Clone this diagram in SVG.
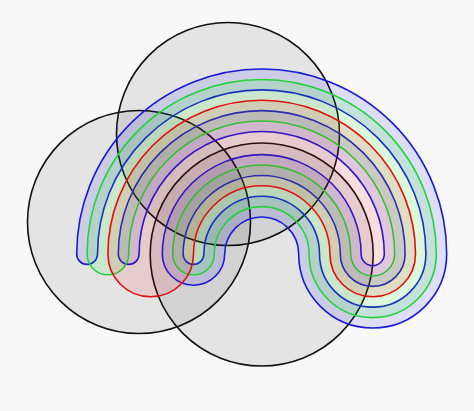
<svg xmlns="http://www.w3.org/2000/svg" width="474" height="411" viewBox="0 0 474 411">
  <style>
    .circ { fill: #000000; fill-opacity: 0.08; stroke: #111111; stroke-width: 1.6; }
    .blue { fill: #0000ff; fill-opacity: 0.1; stroke: #1a1ad6; stroke-width: 1.6; }
    .green { fill: #00ff00; fill-opacity: 0.11; stroke: #22d43a; stroke-width: 1.6; }
    .red { fill: #ff0000; fill-opacity: 0.1; stroke: #e01010; stroke-width: 1.6; }
  </style>
  <rect x="0" y="0" width="474" height="411" fill="#f8f8f8"/>
  <g id="circle-left"><circle class="circ" cx="139" cy="222" r="111.5"/></g>
  <g id="circle-top"><circle class="circ" cx="228" cy="134" r="111.5"/></g>
  <g id="circle-bottom"><circle class="circ" cx="261.7" cy="254.5" r="111.5"/></g>
  <g id="curve-blue">
    <path class="blue" d="M 76.7,254 A 185 185 0 0 1 446.7,254 A 74 74 0 0 1 298.7,254 A 37 37 0 0 0 224.7,254 A 31.2 31.2 0 0 1 162.3,254 A 99.4 99.4 0 0 1 361.1,254 A 11.6 11.6 0 0 0 384.3,254 A 122.6 122.6 0 0 0 139.1,254 A 10.4 10.4 0 0 1 118.3,254 A 143.4 143.4 0 0 1 405.1,254 A 32.4 32.4 0 0 1 340.3,254 A 78.6 78.6 0 0 0 183.1,254 A 10.4 10.4 0 0 0 203.9,254 A 57.8 57.8 0 0 1 319.5,254 A 53.2 53.2 0 0 0 425.9,254 A 164.2 164.2 0 0 0 97.5,254 A 10.4 10.4 0 0 1 76.7,254 Z"/>
  </g>
  <g id="curve-green">
    <path class="green" d="M 87.1,254 A 174.6 174.6 0 0 1 436.3,254 A 63.6 63.6 0 0 1 309.1,254 A 47.4 47.4 0 0 0 214.3,254 A 20.8 20.8 0 0 1 172.7,254 A 89 89 0 0 1 350.7,254 A 22 22 0 0 0 394.7,254 A 133 133 0 0 0 128.7,254 A 20.8 20.8 0 0 1 87.1,254 Z"/>
  </g>
  <g id="curve-red">
    <path class="red" d="M 107.9,254 A 153.8 153.8 0 0 1 415.5,254 A 42.8 42.8 0 0 1 329.9,254 A 68.2 68.2 0 0 0 193.5,254 A 42.8 42.8 0 0 1 107.9,254 Z"/>
  </g>
  <g id="connectors"/>
</svg>
